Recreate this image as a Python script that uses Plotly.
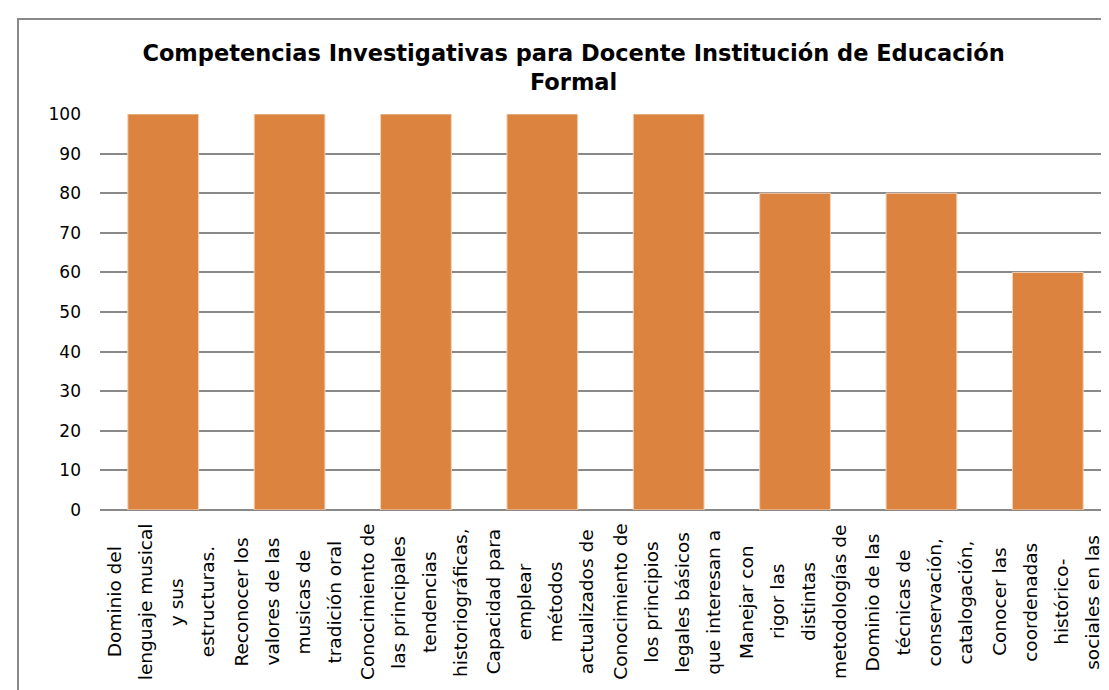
import plotly.graph_objects as go

#====================================================
# DATOS
#====================================================

categorias = [
    "Dominio del lenguaje musical y sus estructuras.",
    "Reconocer los valores de las musicas de tradición oral",
    "Conocimiento de las principales tendencias historiográficas,",
    "Capacidad para emplear métodos actualizados de",
    "Conocimiento de los principios legales básicos que interesan a",
    "Manejar con rigor las distintas metodologías de",
    "Dominio de las técnicas de conservación, catalogación,",
    "Conocer las coordenadas histórico-sociales en las",
]

# lineas de cada etiqueta (como aparecen cortadas en el eje)
etiquetas = [
    ["Dominio del", "lenguaje musical", "y sus", "estructuras."],
    ["Reconocer los", "valores de las", "musicas de", "tradición oral"],
    ["Conocimiento de", "las principales", "tendencias", "historiográficas,"],
    ["Capacidad para", "emplear", "métodos", "actualizados de"],
    ["Conocimiento de", "los principios", "legales básicos", "que interesan a"],
    ["Manejar con", "rigor las", "distintas", "metodologías de"],
    ["Dominio de las", "técnicas de", "conservación,", "catalogación,"],
    ["Conocer las", "coordenadas", "histórico-", "sociales en las"],
]

valores = [100, 100, 100, 100, 100, 80, 80, 60]

y_ticks = [0, 10, 20, 30, 40, 50, 60, 70, 80, 90, 100]

titulo = "Competencias Investigativas para Docente Institución de Educación<br>Formal"

FONT = "DejaVu Sans"
NARANJA = "#DC843F"
GRIS = "#898989"

#====================================================
# GRAFICO
#====================================================

fig = go.Figure()

fig.add_trace(go.Bar(
    x=categorias,
    y=valores,
    marker=dict(color=NARANJA, line=dict(color="#F4D2B5", width=1)),
    hoverinfo="x+y",
))

# etiquetas del eje x, linea por linea, giradas
desplaz = [-48, -17, 14, 45]

for cat, lineas in zip(categorias, etiquetas):
    for linea, dx in zip(lineas, desplaz):
        fig.add_annotation(
            x=cat,
            xref="x",
            y=-0.2323,
            yref="paper",
            text=linea,
            textangle=-90,
            showarrow=False,
            xanchor="center",
            yanchor="middle",
            xshift=dx,
            font=dict(family=FONT, size=18.5, color="#000000"),
        )

# borde del area del grafico
fig.add_shape(
    type="rect",
    xref="paper", yref="paper",
    x0=-0.0811, x1=1.3,
    y0=-1.0, y1=1.240,
    line=dict(color=GRIS, width=2),
    fillcolor="rgba(0,0,0,0)",
    layer="below",
)

fig.update_layout(
    width=1109,
    height=690,
    margin=dict(l=92, r=6, t=106, b=188),
    paper_bgcolor="white",
    plot_bgcolor="white",
    bargap=0.44,
    showlegend=False,
    title=dict(
        text=titulo,
        x=0.51,
        xref="container",
        xanchor="center",
        y=0.923,
        yref="container",
        yanchor="middle",
        font=dict(family=FONT, size=22.5, color="#000000", weight="bold"),
    ),
    font=dict(family=FONT, size=17, color="#000000"),
)

fig.update_xaxes(
    showticklabels=False,
    showgrid=False,
    showline=False,
    ticks="",
)

fig.update_yaxes(
    range=[0, 100],
    tickvals=y_ticks,
    ticktext=[str(v) for v in y_ticks],
    showgrid=True,
    gridcolor=GRIS,
    gridwidth=2,
    zeroline=True,
    zerolinecolor=GRIS,
    zerolinewidth=2,
    showline=False,
    ticks="",
    ticklabelstandoff=18,
    tickfont=dict(family=FONT, size=17, color="#000000"),
)

fig.write_html("out.html")
